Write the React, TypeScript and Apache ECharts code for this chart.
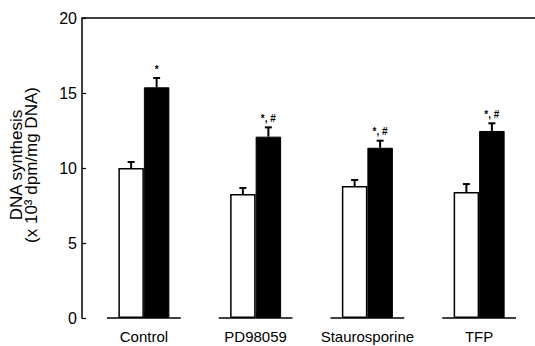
import React, { useEffect, useRef } from "react";
import * as echarts from "echarts";

const categories = ["Control", "PD98059", "Staurosporine", "TFP"];
const whiteValues = [10.0, 8.27, 8.8, 8.4];
const whiteErrors = [0.4, 0.4, 0.4, 0.53];
const blackValues = [15.38, 12.09, 11.35, 12.47];
const blackErrors = [0.62, 0.62, 0.47, 0.51];
const annotations = ["*", "*, #", "*, #", "*, #"];
const yTicks = { min: 0, max: 20, interval: 5 };

const FONT = "Liberation Sans, Arial, Helvetica, sans-serif";
const BAR_W = 25.5;

export default function App() {
  const ref = useRef<HTMLDivElement>(null);
  useEffect(() => {
    if (!ref.current) return;
    const chart = echarts.init(ref.current, undefined, { renderer: "svg" });

    const errData: any[] = [];
    whiteValues.forEach((v, i) => errData.push([i, v, whiteErrors[i], -1, ""]));
    blackValues.forEach((v, i) => errData.push([i, v, blackErrors[i], 1, annotations[i]]));

    chart.setOption({
      animation: false,
      backgroundColor: "#ffffff",
      grid: { left: 87.7, right: -3.4, top: 18, bottom: 28, containLabel: false },
      xAxis: {
        type: "category",
        data: categories,
        axisLine: { show: false },
        axisTick: { show: false },
        axisLabel: {
          interval: 0,
          color: "#000",
          fontFamily: FONT,
          fontSize: 15,
          margin: 11,
        },
      },
      yAxis: {
        type: "value",
        min: yTicks.min,
        max: yTicks.max,
        interval: yTicks.interval,
        offset: 6,
        splitLine: { show: false },
        axisLine: { show: true, lineStyle: { color: "#000", width: 1.5 } },
        axisTick: { show: true, inside: true, length: 4, lineStyle: { color: "#000", width: 1.2 } },
        axisLabel: { color: "#000", fontFamily: FONT, fontSize: 16, margin: 5 },
        name: "DNA synthesis\n(x 10³ dpm/mg DNA)",
        nameLocation: "middle",
        nameRotate: 90,
        nameGap: 43,
        nameTextStyle: { color: "#000", fontFamily: FONT, fontSize: 17, lineHeight: 15, padding: [0, 0, 0, 6] },
      },
      graphic: [
        {
          type: "line",
          shape: { x1: 81.7, y1: 18, x2: 535, y2: 18 },
          style: { stroke: "#000", lineWidth: 1.5 },
        },
      ],
      series: [
        {
          type: "custom",
          data: categories.map((_, i) => [i]),
          renderItem: (params: any, api: any) => {
            const p = api.coord([api.value(0), 0]);
            const half = api.size([1, 0])[0] * 0.33;
            return {
              type: "line",
              shape: { x1: p[0] - half, y1: p[1], x2: p[0] + half, y2: p[1] },
              style: { stroke: "#000", lineWidth: 1.5 },
            };
          },
          z: 1,
        },
        {
          type: "bar",
          data: whiteValues,
          barWidth: BAR_W,
          barGap: "0%",
          itemStyle: { color: "#fff", borderColor: "#000", borderWidth: 1.5 },
          z: 2,
        },
        {
          type: "bar",
          data: blackValues,
          barWidth: BAR_W,
          barGap: "0%",
          itemStyle: { color: "#000", borderColor: "#000", borderWidth: 1 },
          z: 2,
        },
        {
          type: "custom",
          data: errData,
          z: 3,
          renderItem: (params: any, api: any) => {
            const i = api.value(0);
            const v = api.value(1);
            const e = api.value(2);
            const side = api.value(3);
            const label = errData[params.dataIndex][4];
            const top = api.coord([i, v]);
            const cap = api.coord([i, v + e]);
            const x = top[0] + (side * BAR_W) / 2;
            const children: any[] = [
              { type: "line", shape: { x1: x, y1: top[1], x2: x, y2: cap[1] }, style: { stroke: "#000", lineWidth: 2 } },
              { type: "line", shape: { x1: x - 3.5, y1: cap[1], x2: x + 3.5, y2: cap[1] }, style: { stroke: "#000", lineWidth: 2 } },
            ];
            if (label) {
              children.push({
                type: "text",
                style: {
                  text: label,
                  x: x,
                  y: cap[1] - 9,
                  align: "center",
                  verticalAlign: "middle",
                  fontFamily: FONT,
                  fontSize: 10,
                  fontWeight: "bold",
                  fill: "#000",
                },
              });
            }
            return { type: "group", children };
          },
        },
      ],
    });
    return () => chart.dispose();
  }, []);
  return <div ref={ref} style={{ width: 535, height: 346, position: "absolute", left: 0, top: 0 }} />;
}
